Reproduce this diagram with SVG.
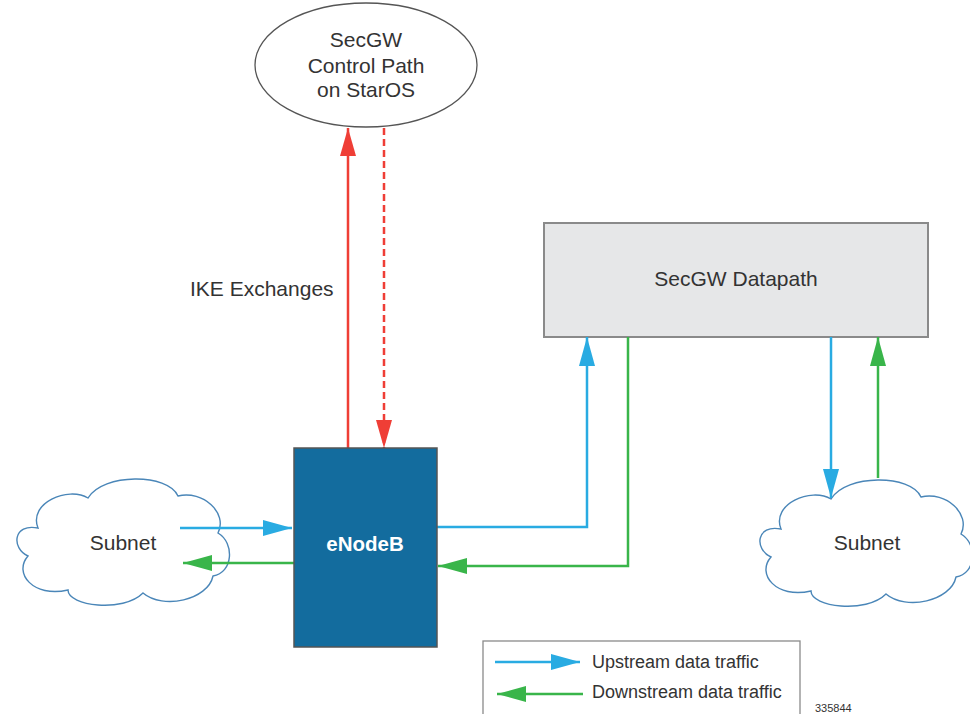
<svg xmlns="http://www.w3.org/2000/svg" width="970" height="714" viewBox="0 0 970 714">
  <style>
    .lbl { font-family: "Liberation Sans", Arial, sans-serif; font-size: 21px; fill: #333333; }
    .legend { font-family: "Liberation Sans", Arial, sans-serif; font-size: 18px; fill: #333333; }
    .cloud { fill: #ffffff; stroke: #4a86b8; stroke-width: 1.4; }
    .up { stroke: #29abe2; stroke-width: 2.5; fill: none; }
    .down { stroke: #39b54a; stroke-width: 2.5; fill: none; }
    .ike { stroke: #ef3e36; stroke-width: 2.5; fill: none; }
  </style>
  <defs>
    <marker id="ah-red" markerUnits="userSpaceOnUse" markerWidth="28" markerHeight="16" refX="28" refY="8" orient="auto">
      <path d="M0,0 L28,8 L0,16 z" fill="#ef3e36"/>
    </marker>
    <marker id="ah-blue" markerUnits="userSpaceOnUse" markerWidth="29" markerHeight="16" refX="29" refY="8" orient="auto">
      <path d="M0,0 L29,8 L0,16 z" fill="#29abe2"/>
    </marker>
    <marker id="ah-green" markerUnits="userSpaceOnUse" markerWidth="29" markerHeight="16" refX="29" refY="8" orient="auto">
      <path d="M0,0 L29,8 L0,16 z" fill="#39b54a"/>
    </marker>
    <path id="cloud-shape" d="M25 50 C15 25 55 8 75 20 C90 -5 155 -5 165 18 C190 12 215 35 205 55 C222 65 220 95 200 98 C195 122 150 132 130 115 C110 135 55 128 55 112 C20 120 0 95 15 78 C-2 70 0 45 25 50 Z"/>
  </defs>

  <rect width="970" height="714" fill="#ffffff"/>

  <!-- control path on StarOS -->
  <g id="control-path">
    <ellipse cx="366" cy="65" rx="111" ry="62" fill="#ffffff" stroke="#555555" stroke-width="1.3"/>
    <text class="lbl" x="366" y="47" text-anchor="middle">SecGW</text>
    <text class="lbl" x="366" y="73" text-anchor="middle">Control Path</text>
    <text class="lbl" x="366" y="97" text-anchor="middle">on StarOS</text>
  </g>

  <!-- datapath -->
  <g id="datapath">
    <rect x="544" y="223" width="384" height="114" fill="#e6e7e8" stroke="#8a8a8a" stroke-width="2"/>
    <text class="lbl" x="736" y="286" text-anchor="middle">SecGW Datapath</text>
  </g>

  <!-- left subnet -->
  <g id="subnet-left">
    <use href="#cloud-shape" class="cloud" transform="translate(13,478)"/>
    <text class="lbl" x="123" y="550" text-anchor="middle">Subnet</text>
  </g>

  <!-- right subnet -->
  <g id="subnet-right">
    <use href="#cloud-shape" class="cloud" transform="translate(756,479)"/>
    <text class="lbl" x="867" y="550" text-anchor="middle">Subnet</text>
  </g>

  <!-- connectors -->
  <g id="connectors">
    <line class="ike" x1="348" y1="448" x2="348" y2="128" marker-end="url(#ah-red)"/>
    <line class="ike" x1="384" y1="128" x2="384" y2="448" stroke-dasharray="7,4" marker-end="url(#ah-red)"/>
    <line class="up" x1="180" y1="528" x2="292" y2="528" marker-end="url(#ah-blue)"/>
    <line class="down" x1="294" y1="563" x2="183" y2="563" marker-end="url(#ah-green)"/>
    <polyline class="up" points="437,527 587,527 587,337" marker-end="url(#ah-blue)"/>
    <polyline class="down" points="628,337 628,566 438,566" marker-end="url(#ah-green)"/>
    <line class="up" x1="831" y1="337" x2="831" y2="498" marker-end="url(#ah-blue)"/>
    <line class="down" x1="878" y1="478" x2="878" y2="337" marker-end="url(#ah-green)"/>
  </g>

  <!-- eNodeB -->
  <g id="enodeb">
    <rect x="294" y="448" width="143" height="199" fill="#136c9e" stroke="#555555" stroke-width="1.5"/>
    <text x="365" y="551" text-anchor="middle" font-family="'Liberation Sans', Arial, sans-serif" font-size="20.5" font-weight="bold" fill="#ffffff">eNodeB</text>
  </g>

  <text class="lbl" x="190" y="296">IKE Exchanges</text>

  <!-- legend -->
  <g id="legend">
    <rect x="483" y="641" width="317" height="80" fill="#ffffff" stroke="#8a8a8a" stroke-width="1.3"/>
    <line class="up" x1="495" y1="662" x2="580" y2="662" marker-end="url(#ah-blue)"/>
    <line class="down" x1="583" y1="694" x2="497" y2="694" marker-end="url(#ah-green)"/>
    <text class="legend" x="592" y="668">Upstream data traffic</text>
    <text class="legend" x="592" y="698">Downstream data traffic</text>
  </g>

  <text x="815" y="712" font-family="'Liberation Sans', Arial, sans-serif" font-size="11" fill="#333333">335844</text>
</svg>
